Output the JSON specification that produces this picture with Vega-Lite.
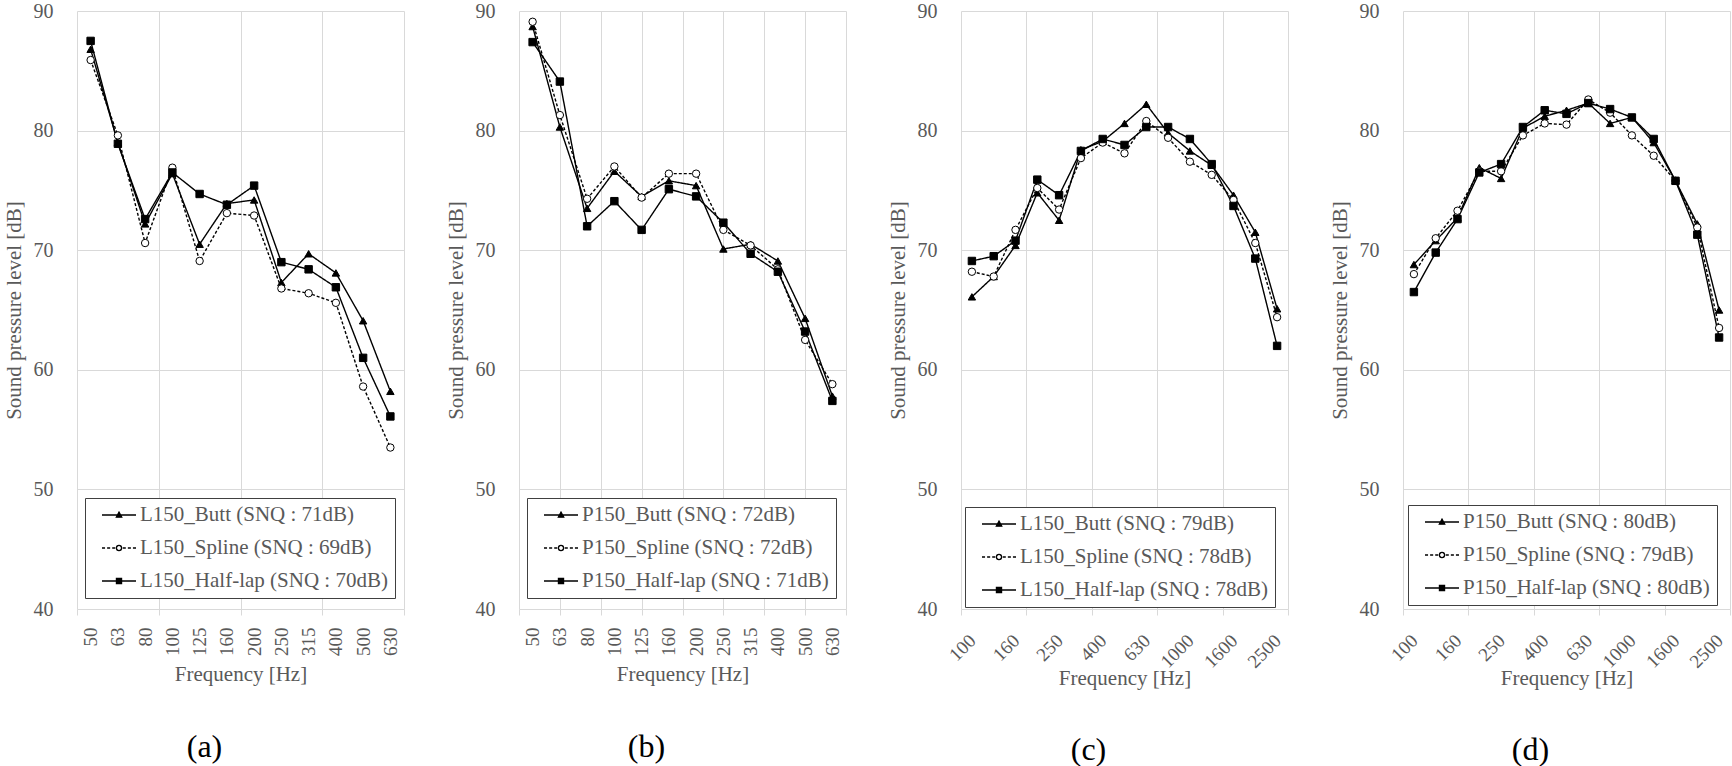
{
  "$schema": "https://vega.github.io/schema/vega-lite/v6.json",
  "background": "white",
  "padding": {"left": 3, "top": 1, "right": 0, "bottom": 0},
  "spacing": 40,
  "config": {
    "font": "Liberation Serif",
    "view": {"stroke": null},
    "axis": {"labelFont": "Liberation Serif", "titleFont": "Liberation Serif", "labelColor": "#595959", "titleColor": "#595959", "titleFontWeight": "normal", "gridColor": "#d9d9d9", "gridWidth": 1, "domain": false, "tickColor": "#d9d9d9"},
    "legend": {"labelFont": "Liberation Serif"},
    "title": {"font": "Liberation Serif", "fontWeight": "normal", "fontSize": 32, "color": "black"}
  },
  "datasets": {
    "a": [
      {"s": "L150_Butt (SNQ : 71dB)", "f": "50", "i": 0, "v": 86.8},
      {"s": "L150_Butt (SNQ : 71dB)", "f": "63", "i": 1, "v": 79.0},
      {"s": "L150_Butt (SNQ : 71dB)", "f": "80", "i": 2, "v": 72.2},
      {"s": "L150_Butt (SNQ : 71dB)", "f": "100", "i": 3, "v": 76.4},
      {"s": "L150_Butt (SNQ : 71dB)", "f": "125", "i": 4, "v": 70.5},
      {"s": "L150_Butt (SNQ : 71dB)", "f": "160", "i": 5, "v": 73.9},
      {"s": "L150_Butt (SNQ : 71dB)", "f": "200", "i": 6, "v": 74.2},
      {"s": "L150_Butt (SNQ : 71dB)", "f": "250", "i": 7, "v": 67.3},
      {"s": "L150_Butt (SNQ : 71dB)", "f": "315", "i": 8, "v": 69.7},
      {"s": "L150_Butt (SNQ : 71dB)", "f": "400", "i": 9, "v": 68.1},
      {"s": "L150_Butt (SNQ : 71dB)", "f": "500", "i": 10, "v": 64.1},
      {"s": "L150_Butt (SNQ : 71dB)", "f": "630", "i": 11, "v": 58.2},
      {"s": "L150_Spline (SNQ : 69dB)", "f": "50", "i": 0, "v": 85.9},
      {"s": "L150_Spline (SNQ : 69dB)", "f": "63", "i": 1, "v": 79.6},
      {"s": "L150_Spline (SNQ : 69dB)", "f": "80", "i": 2, "v": 70.6},
      {"s": "L150_Spline (SNQ : 69dB)", "f": "100", "i": 3, "v": 76.9},
      {"s": "L150_Spline (SNQ : 69dB)", "f": "125", "i": 4, "v": 69.1},
      {"s": "L150_Spline (SNQ : 69dB)", "f": "160", "i": 5, "v": 73.1},
      {"s": "L150_Spline (SNQ : 69dB)", "f": "200", "i": 6, "v": 72.9},
      {"s": "L150_Spline (SNQ : 69dB)", "f": "250", "i": 7, "v": 66.8},
      {"s": "L150_Spline (SNQ : 69dB)", "f": "315", "i": 8, "v": 66.4},
      {"s": "L150_Spline (SNQ : 69dB)", "f": "400", "i": 9, "v": 65.6},
      {"s": "L150_Spline (SNQ : 69dB)", "f": "500", "i": 10, "v": 58.6},
      {"s": "L150_Spline (SNQ : 69dB)", "f": "630", "i": 11, "v": 53.5},
      {"s": "L150_Half-lap (SNQ : 70dB)", "f": "50", "i": 0, "v": 87.5},
      {"s": "L150_Half-lap (SNQ : 70dB)", "f": "63", "i": 1, "v": 78.9},
      {"s": "L150_Half-lap (SNQ : 70dB)", "f": "80", "i": 2, "v": 72.6},
      {"s": "L150_Half-lap (SNQ : 70dB)", "f": "100", "i": 3, "v": 76.5},
      {"s": "L150_Half-lap (SNQ : 70dB)", "f": "125", "i": 4, "v": 74.7},
      {"s": "L150_Half-lap (SNQ : 70dB)", "f": "160", "i": 5, "v": 73.8},
      {"s": "L150_Half-lap (SNQ : 70dB)", "f": "200", "i": 6, "v": 75.4},
      {"s": "L150_Half-lap (SNQ : 70dB)", "f": "250", "i": 7, "v": 69.0},
      {"s": "L150_Half-lap (SNQ : 70dB)", "f": "315", "i": 8, "v": 68.4},
      {"s": "L150_Half-lap (SNQ : 70dB)", "f": "400", "i": 9, "v": 66.9},
      {"s": "L150_Half-lap (SNQ : 70dB)", "f": "500", "i": 10, "v": 61.0},
      {"s": "L150_Half-lap (SNQ : 70dB)", "f": "630", "i": 11, "v": 56.1}
    ],
    "b": [
      {"s": "P150_Butt (SNQ : 72dB)", "f": "50", "i": 0, "v": 88.7},
      {"s": "P150_Butt (SNQ : 72dB)", "f": "63", "i": 1, "v": 80.3},
      {"s": "P150_Butt (SNQ : 72dB)", "f": "80", "i": 2, "v": 73.5},
      {"s": "P150_Butt (SNQ : 72dB)", "f": "100", "i": 3, "v": 76.6},
      {"s": "P150_Butt (SNQ : 72dB)", "f": "125", "i": 4, "v": 74.5},
      {"s": "P150_Butt (SNQ : 72dB)", "f": "160", "i": 5, "v": 75.8},
      {"s": "P150_Butt (SNQ : 72dB)", "f": "200", "i": 6, "v": 75.4},
      {"s": "P150_Butt (SNQ : 72dB)", "f": "250", "i": 7, "v": 70.1},
      {"s": "P150_Butt (SNQ : 72dB)", "f": "315", "i": 8, "v": 70.5},
      {"s": "P150_Butt (SNQ : 72dB)", "f": "400", "i": 9, "v": 69.1},
      {"s": "P150_Butt (SNQ : 72dB)", "f": "500", "i": 10, "v": 64.3},
      {"s": "P150_Butt (SNQ : 72dB)", "f": "630", "i": 11, "v": 57.8},
      {"s": "P150_Spline (SNQ : 72dB)", "f": "50", "i": 0, "v": 89.1},
      {"s": "P150_Spline (SNQ : 72dB)", "f": "63", "i": 1, "v": 81.3},
      {"s": "P150_Spline (SNQ : 72dB)", "f": "80", "i": 2, "v": 74.3},
      {"s": "P150_Spline (SNQ : 72dB)", "f": "100", "i": 3, "v": 77.0},
      {"s": "P150_Spline (SNQ : 72dB)", "f": "125", "i": 4, "v": 74.4},
      {"s": "P150_Spline (SNQ : 72dB)", "f": "160", "i": 5, "v": 76.4},
      {"s": "P150_Spline (SNQ : 72dB)", "f": "200", "i": 6, "v": 76.4},
      {"s": "P150_Spline (SNQ : 72dB)", "f": "250", "i": 7, "v": 71.7},
      {"s": "P150_Spline (SNQ : 72dB)", "f": "315", "i": 8, "v": 70.4},
      {"s": "P150_Spline (SNQ : 72dB)", "f": "400", "i": 9, "v": 68.4},
      {"s": "P150_Spline (SNQ : 72dB)", "f": "500", "i": 10, "v": 62.5},
      {"s": "P150_Spline (SNQ : 72dB)", "f": "630", "i": 11, "v": 58.8},
      {"s": "P150_Half-lap (SNQ : 71dB)", "f": "50", "i": 0, "v": 87.4},
      {"s": "P150_Half-lap (SNQ : 71dB)", "f": "63", "i": 1, "v": 84.1},
      {"s": "P150_Half-lap (SNQ : 71dB)", "f": "80", "i": 2, "v": 72.0},
      {"s": "P150_Half-lap (SNQ : 71dB)", "f": "100", "i": 3, "v": 74.1},
      {"s": "P150_Half-lap (SNQ : 71dB)", "f": "125", "i": 4, "v": 71.7},
      {"s": "P150_Half-lap (SNQ : 71dB)", "f": "160", "i": 5, "v": 75.1},
      {"s": "P150_Half-lap (SNQ : 71dB)", "f": "200", "i": 6, "v": 74.5},
      {"s": "P150_Half-lap (SNQ : 71dB)", "f": "250", "i": 7, "v": 72.3},
      {"s": "P150_Half-lap (SNQ : 71dB)", "f": "315", "i": 8, "v": 69.7},
      {"s": "P150_Half-lap (SNQ : 71dB)", "f": "400", "i": 9, "v": 68.2},
      {"s": "P150_Half-lap (SNQ : 71dB)", "f": "500", "i": 10, "v": 63.2},
      {"s": "P150_Half-lap (SNQ : 71dB)", "f": "630", "i": 11, "v": 57.4}
    ],
    "c": [
      {"s": "L150_Butt (SNQ : 79dB)", "f": "100", "i": 0, "v": 66.1},
      {"s": "L150_Butt (SNQ : 79dB)", "f": "125", "i": 1, "v": 67.8},
      {"s": "L150_Butt (SNQ : 79dB)", "f": "160", "i": 2, "v": 70.4},
      {"s": "L150_Butt (SNQ : 79dB)", "f": "200", "i": 3, "v": 74.8},
      {"s": "L150_Butt (SNQ : 79dB)", "f": "250", "i": 4, "v": 72.5},
      {"s": "L150_Butt (SNQ : 79dB)", "f": "315", "i": 5, "v": 78.4},
      {"s": "L150_Butt (SNQ : 79dB)", "f": "400", "i": 6, "v": 79.1},
      {"s": "L150_Butt (SNQ : 79dB)", "f": "500", "i": 7, "v": 80.6},
      {"s": "L150_Butt (SNQ : 79dB)", "f": "630", "i": 8, "v": 82.2},
      {"s": "L150_Butt (SNQ : 79dB)", "f": "800", "i": 9, "v": 79.8},
      {"s": "L150_Butt (SNQ : 79dB)", "f": "1000", "i": 10, "v": 78.3},
      {"s": "L150_Butt (SNQ : 79dB)", "f": "1250", "i": 11, "v": 77.1},
      {"s": "L150_Butt (SNQ : 79dB)", "f": "1600", "i": 12, "v": 74.6},
      {"s": "L150_Butt (SNQ : 79dB)", "f": "2000", "i": 13, "v": 71.5},
      {"s": "L150_Butt (SNQ : 79dB)", "f": "2500", "i": 14, "v": 65.1},
      {"s": "L150_Spline (SNQ : 78dB)", "f": "100", "i": 0, "v": 68.2},
      {"s": "L150_Spline (SNQ : 78dB)", "f": "125", "i": 1, "v": 67.8},
      {"s": "L150_Spline (SNQ : 78dB)", "f": "160", "i": 2, "v": 71.7},
      {"s": "L150_Spline (SNQ : 78dB)", "f": "200", "i": 3, "v": 75.2},
      {"s": "L150_Spline (SNQ : 78dB)", "f": "250", "i": 4, "v": 73.4},
      {"s": "L150_Spline (SNQ : 78dB)", "f": "315", "i": 5, "v": 77.7},
      {"s": "L150_Spline (SNQ : 78dB)", "f": "400", "i": 6, "v": 79.0},
      {"s": "L150_Spline (SNQ : 78dB)", "f": "500", "i": 7, "v": 78.1},
      {"s": "L150_Spline (SNQ : 78dB)", "f": "630", "i": 8, "v": 80.8},
      {"s": "L150_Spline (SNQ : 78dB)", "f": "800", "i": 9, "v": 79.4},
      {"s": "L150_Spline (SNQ : 78dB)", "f": "1000", "i": 10, "v": 77.4},
      {"s": "L150_Spline (SNQ : 78dB)", "f": "1250", "i": 11, "v": 76.3},
      {"s": "L150_Spline (SNQ : 78dB)", "f": "1600", "i": 12, "v": 74.2},
      {"s": "L150_Spline (SNQ : 78dB)", "f": "2000", "i": 13, "v": 70.6},
      {"s": "L150_Spline (SNQ : 78dB)", "f": "2500", "i": 14, "v": 64.4},
      {"s": "L150_Half-lap (SNQ : 78dB)", "f": "100", "i": 0, "v": 69.1},
      {"s": "L150_Half-lap (SNQ : 78dB)", "f": "125", "i": 1, "v": 69.5},
      {"s": "L150_Half-lap (SNQ : 78dB)", "f": "160", "i": 2, "v": 70.8},
      {"s": "L150_Half-lap (SNQ : 78dB)", "f": "200", "i": 3, "v": 75.9},
      {"s": "L150_Half-lap (SNQ : 78dB)", "f": "250", "i": 4, "v": 74.6},
      {"s": "L150_Half-lap (SNQ : 78dB)", "f": "315", "i": 5, "v": 78.3},
      {"s": "L150_Half-lap (SNQ : 78dB)", "f": "400", "i": 6, "v": 79.3},
      {"s": "L150_Half-lap (SNQ : 78dB)", "f": "500", "i": 7, "v": 78.8},
      {"s": "L150_Half-lap (SNQ : 78dB)", "f": "630", "i": 8, "v": 80.3},
      {"s": "L150_Half-lap (SNQ : 78dB)", "f": "800", "i": 9, "v": 80.3},
      {"s": "L150_Half-lap (SNQ : 78dB)", "f": "1000", "i": 10, "v": 79.3},
      {"s": "L150_Half-lap (SNQ : 78dB)", "f": "1250", "i": 11, "v": 77.2},
      {"s": "L150_Half-lap (SNQ : 78dB)", "f": "1600", "i": 12, "v": 73.7},
      {"s": "L150_Half-lap (SNQ : 78dB)", "f": "2000", "i": 13, "v": 69.3},
      {"s": "L150_Half-lap (SNQ : 78dB)", "f": "2500", "i": 14, "v": 62.0}
    ],
    "d": [
      {"s": "P150_Butt (SNQ : 80dB)", "f": "100", "i": 0, "v": 68.8},
      {"s": "P150_Butt (SNQ : 80dB)", "f": "125", "i": 1, "v": 70.8},
      {"s": "P150_Butt (SNQ : 80dB)", "f": "160", "i": 2, "v": 72.7},
      {"s": "P150_Butt (SNQ : 80dB)", "f": "200", "i": 3, "v": 76.9},
      {"s": "P150_Butt (SNQ : 80dB)", "f": "250", "i": 4, "v": 76.0},
      {"s": "P150_Butt (SNQ : 80dB)", "f": "315", "i": 5, "v": 80.2},
      {"s": "P150_Butt (SNQ : 80dB)", "f": "400", "i": 6, "v": 81.2},
      {"s": "P150_Butt (SNQ : 80dB)", "f": "500", "i": 7, "v": 81.7},
      {"s": "P150_Butt (SNQ : 80dB)", "f": "630", "i": 8, "v": 82.3},
      {"s": "P150_Butt (SNQ : 80dB)", "f": "800", "i": 9, "v": 80.6},
      {"s": "P150_Butt (SNQ : 80dB)", "f": "1000", "i": 10, "v": 81.1},
      {"s": "P150_Butt (SNQ : 80dB)", "f": "1250", "i": 11, "v": 79.0},
      {"s": "P150_Butt (SNQ : 80dB)", "f": "1600", "i": 12, "v": 75.8},
      {"s": "P150_Butt (SNQ : 80dB)", "f": "2000", "i": 13, "v": 72.2},
      {"s": "P150_Butt (SNQ : 80dB)", "f": "2500", "i": 14, "v": 65.0},
      {"s": "P150_Spline (SNQ : 79dB)", "f": "100", "i": 0, "v": 68.0},
      {"s": "P150_Spline (SNQ : 79dB)", "f": "125", "i": 1, "v": 71.0},
      {"s": "P150_Spline (SNQ : 79dB)", "f": "160", "i": 2, "v": 73.3},
      {"s": "P150_Spline (SNQ : 79dB)", "f": "200", "i": 3, "v": 76.6},
      {"s": "P150_Spline (SNQ : 79dB)", "f": "250", "i": 4, "v": 76.6},
      {"s": "P150_Spline (SNQ : 79dB)", "f": "315", "i": 5, "v": 79.6},
      {"s": "P150_Spline (SNQ : 79dB)", "f": "400", "i": 6, "v": 80.6},
      {"s": "P150_Spline (SNQ : 79dB)", "f": "500", "i": 7, "v": 80.5},
      {"s": "P150_Spline (SNQ : 79dB)", "f": "630", "i": 8, "v": 82.6},
      {"s": "P150_Spline (SNQ : 79dB)", "f": "800", "i": 9, "v": 81.5},
      {"s": "P150_Spline (SNQ : 79dB)", "f": "1000", "i": 10, "v": 79.6},
      {"s": "P150_Spline (SNQ : 79dB)", "f": "1250", "i": 11, "v": 77.9},
      {"s": "P150_Spline (SNQ : 79dB)", "f": "1600", "i": 12, "v": 75.8},
      {"s": "P150_Spline (SNQ : 79dB)", "f": "2000", "i": 13, "v": 71.9},
      {"s": "P150_Spline (SNQ : 79dB)", "f": "2500", "i": 14, "v": 63.5},
      {"s": "P150_Half-lap (SNQ : 80dB)", "f": "100", "i": 0, "v": 66.5},
      {"s": "P150_Half-lap (SNQ : 80dB)", "f": "125", "i": 1, "v": 69.8},
      {"s": "P150_Half-lap (SNQ : 80dB)", "f": "160", "i": 2, "v": 72.6},
      {"s": "P150_Half-lap (SNQ : 80dB)", "f": "200", "i": 3, "v": 76.5},
      {"s": "P150_Half-lap (SNQ : 80dB)", "f": "250", "i": 4, "v": 77.2},
      {"s": "P150_Half-lap (SNQ : 80dB)", "f": "315", "i": 5, "v": 80.3},
      {"s": "P150_Half-lap (SNQ : 80dB)", "f": "400", "i": 6, "v": 81.7},
      {"s": "P150_Half-lap (SNQ : 80dB)", "f": "500", "i": 7, "v": 81.4},
      {"s": "P150_Half-lap (SNQ : 80dB)", "f": "630", "i": 8, "v": 82.3},
      {"s": "P150_Half-lap (SNQ : 80dB)", "f": "800", "i": 9, "v": 81.8},
      {"s": "P150_Half-lap (SNQ : 80dB)", "f": "1000", "i": 10, "v": 81.1},
      {"s": "P150_Half-lap (SNQ : 80dB)", "f": "1250", "i": 11, "v": 79.3},
      {"s": "P150_Half-lap (SNQ : 80dB)", "f": "1600", "i": 12, "v": 75.8},
      {"s": "P150_Half-lap (SNQ : 80dB)", "f": "2000", "i": 13, "v": 71.3},
      {"s": "P150_Half-lap (SNQ : 80dB)", "f": "2500", "i": 14, "v": 62.7}
    ]
  },
  "hconcat": [
    {
      "width": 327, "height": 598,
      "data": {"name": "a"},
      "title": {"text": "(a)", "orient": "bottom", "frame": "group", "dx": -36, "offset": 47},
      "encoding": {"y": {"field": "v", "type": "quantitative", "scale": {"domain": [40, 90], "nice": false, "zero": false}, "axis": {"values": [40, 50, 60, 70, 80, 90], "title": "Sound pressure level [dB]", "titleFontSize": 21, "labelFontSize": 20, "labelPadding": 24, "titlePadding": 8.5, "ticks": false, "grid": true}}},
      "layer": [
        {"mark": {"type": "line", "stroke": "black", "strokeWidth": 1.4},
         "encoding": {
           "x": {"field": "i", "type": "quantitative", "scale": {"domain": [-0.5, 11.5], "nice": false, "zero": false}, "axis": {"orient": "bottom", "values": [-0.5, 2.5, 5.5, 8.5, 11.5], "labels": false, "title": null, "grid": true, "ticks": true, "tickSize": 6, "domain": false}},
           "strokeDash": {"field": "s", "type": "nominal", "scale": {"domain": ["L150_Butt (SNQ : 71dB)", "L150_Spline (SNQ : 69dB)", "L150_Half-lap (SNQ : 70dB)"], "range": [[1, 0], [3, 2], [1, 0]]}, "legend": null}}},
        {"mark": {"type": "point", "filled": true, "size": 55, "stroke": "black", "strokeWidth": 1, "opacity": 1},
         "encoding": {
           "x": {"field": "f", "type": "ordinal", "sort": null, "scale": {"type": "point", "padding": 0.5}, "axis": {"orient": "bottom", "title": "Frequency [Hz]", "titleFontSize": 21, "titlePadding": 8, "labelFontSize": 19, "labelAngle": -90, "labelPadding": 18, "labelOverlap": false, "ticks": false, "grid": false, "domain": false}},
           "shape": {"field": "s", "type": "nominal", "scale": {"domain": ["L150_Butt (SNQ : 71dB)", "L150_Spline (SNQ : 69dB)", "L150_Half-lap (SNQ : 70dB)"], "range": ["triangle-up", "circle", "square"]}, "legend": null},
           "fill": {"field": "s", "type": "nominal", "scale": {"domain": ["L150_Butt (SNQ : 71dB)", "L150_Spline (SNQ : 69dB)", "L150_Half-lap (SNQ : 70dB)"], "range": ["black", "white", "black"]}, "legend": null}}},
        {"transform": [{"filter": "false"}],
         "mark": {"type": "point", "filled": true, "stroke": "black", "strokeWidth": 1.3, "opacity": 1},
         "encoding": {
           "shape": {"field": "s", "type": "nominal", "scale": {"domain": ["L150_Butt (SNQ : 71dB)", "L150_Spline (SNQ : 69dB)", "L150_Half-lap (SNQ : 70dB)"], "range": ["M-1,0H1M-0.16,0.13L0,-0.17L0.16,0.13Z", "M-1,0H-0.82M-0.7,0H-0.52M-0.4,0H-0.22M0.22,0H0.4M0.52,0H0.7M0.82,0H1M0.15,0A0.15,0.15,0,1,1,-0.15,0A0.15,0.15,0,1,1,0.15,0Z", "M-1,0H1M-0.15,-0.15H0.15V0.15H-0.15Z"]},
             "legend": {"orient": "none", "legendX": 8, "legendY": 487, "title": null, "symbolSize": 1156, "clipHeight": 20, "rowPadding": 12, "padding": 7, "symbolOffset": 9, "labelOffset": 3, "labelFont": "Liberation Serif", "labelFontSize": 21, "labelColor": "#595959", "labelLimit": 400, "strokeColor": "#404040", "fillColor": "white", "symbolStrokeWidth": 1.3}},
           "fill": {"field": "s", "type": "nominal", "scale": {"domain": ["L150_Butt (SNQ : 71dB)", "L150_Spline (SNQ : 69dB)", "L150_Half-lap (SNQ : 70dB)"], "range": ["black", "white", "black"]},
             "legend": {"orient": "none", "legendX": 8, "legendY": 487, "title": null, "symbolSize": 1156, "clipHeight": 20, "rowPadding": 12, "padding": 7, "symbolOffset": 9, "labelOffset": 3, "labelFont": "Liberation Serif", "labelFontSize": 21, "labelColor": "#595959", "labelLimit": 400, "strokeColor": "#404040", "fillColor": "white", "symbolStrokeWidth": 1.3}},
           "stroke": {"field": "s", "type": "nominal", "scale": {"domain": ["L150_Butt (SNQ : 71dB)", "L150_Spline (SNQ : 69dB)", "L150_Half-lap (SNQ : 70dB)"], "range": ["black", "black", "black"]},
             "legend": {"orient": "none", "legendX": 8, "legendY": 487, "title": null, "symbolSize": 1156, "clipHeight": 20, "rowPadding": 12, "padding": 7, "symbolOffset": 9, "labelOffset": 3, "labelFont": "Liberation Serif", "labelFontSize": 21, "labelColor": "#595959", "labelLimit": 400, "strokeColor": "#404040", "fillColor": "white", "symbolStrokeWidth": 1.3}}}}
      ],
      "resolve": {"scale": {"x": "independent", "shape": "independent", "fill": "independent", "stroke": "independent"}}
    },
    {
      "width": 327, "height": 598,
      "data": {"name": "b"},
      "title": {"text": "(b)", "orient": "bottom", "frame": "group", "dx": -36, "offset": 47},
      "encoding": {"y": {"field": "v", "type": "quantitative", "scale": {"domain": [40, 90], "nice": false, "zero": false}, "axis": {"values": [40, 50, 60, 70, 80, 90], "title": "Sound pressure level [dB]", "titleFontSize": 21, "labelFontSize": 20, "labelPadding": 24, "titlePadding": 8.5, "ticks": false, "grid": true}}},
      "layer": [
        {"mark": {"type": "line", "stroke": "black", "strokeWidth": 1.4},
         "encoding": {
           "x": {"field": "i", "type": "quantitative", "scale": {"domain": [-0.5, 11.5], "nice": false, "zero": false}, "axis": {"orient": "bottom", "values": [-0.5, 1, 2.5, 4, 5.5, 7, 8.5, 10, 11.5], "labels": false, "title": null, "grid": true, "ticks": true, "tickSize": 6, "domain": false}},
           "strokeDash": {"field": "s", "type": "nominal", "scale": {"domain": ["P150_Butt (SNQ : 72dB)", "P150_Spline (SNQ : 72dB)", "P150_Half-lap (SNQ : 71dB)"], "range": [[1, 0], [3, 2], [1, 0]]}, "legend": null}}},
        {"mark": {"type": "point", "filled": true, "size": 55, "stroke": "black", "strokeWidth": 1, "opacity": 1},
         "encoding": {
           "x": {"field": "f", "type": "ordinal", "sort": null, "scale": {"type": "point", "padding": 0.5}, "axis": {"orient": "bottom", "title": "Frequency [Hz]", "titleFontSize": 21, "titlePadding": 8, "labelFontSize": 19, "labelAngle": -90, "labelPadding": 18, "labelOverlap": false, "ticks": false, "grid": false, "domain": false}},
           "shape": {"field": "s", "type": "nominal", "scale": {"domain": ["P150_Butt (SNQ : 72dB)", "P150_Spline (SNQ : 72dB)", "P150_Half-lap (SNQ : 71dB)"], "range": ["triangle-up", "circle", "square"]}, "legend": null},
           "fill": {"field": "s", "type": "nominal", "scale": {"domain": ["P150_Butt (SNQ : 72dB)", "P150_Spline (SNQ : 72dB)", "P150_Half-lap (SNQ : 71dB)"], "range": ["black", "white", "black"]}, "legend": null}}},
        {"transform": [{"filter": "false"}],
         "mark": {"type": "point", "filled": true, "stroke": "black", "strokeWidth": 1.3, "opacity": 1},
         "encoding": {
           "shape": {"field": "s", "type": "nominal", "scale": {"domain": ["P150_Butt (SNQ : 72dB)", "P150_Spline (SNQ : 72dB)", "P150_Half-lap (SNQ : 71dB)"], "range": ["M-1,0H1M-0.16,0.13L0,-0.17L0.16,0.13Z", "M-1,0H-0.82M-0.7,0H-0.52M-0.4,0H-0.22M0.22,0H0.4M0.52,0H0.7M0.82,0H1M0.15,0A0.15,0.15,0,1,1,-0.15,0A0.15,0.15,0,1,1,0.15,0Z", "M-1,0H1M-0.15,-0.15H0.15V0.15H-0.15Z"]},
             "legend": {"orient": "none", "legendX": 8, "legendY": 487, "title": null, "symbolSize": 1156, "clipHeight": 20, "rowPadding": 12, "padding": 7, "symbolOffset": 9, "labelOffset": 3, "labelFont": "Liberation Serif", "labelFontSize": 21, "labelColor": "#595959", "labelLimit": 400, "strokeColor": "#404040", "fillColor": "white", "symbolStrokeWidth": 1.3}},
           "fill": {"field": "s", "type": "nominal", "scale": {"domain": ["P150_Butt (SNQ : 72dB)", "P150_Spline (SNQ : 72dB)", "P150_Half-lap (SNQ : 71dB)"], "range": ["black", "white", "black"]},
             "legend": {"orient": "none", "legendX": 8, "legendY": 487, "title": null, "symbolSize": 1156, "clipHeight": 20, "rowPadding": 12, "padding": 7, "symbolOffset": 9, "labelOffset": 3, "labelFont": "Liberation Serif", "labelFontSize": 21, "labelColor": "#595959", "labelLimit": 400, "strokeColor": "#404040", "fillColor": "white", "symbolStrokeWidth": 1.3}},
           "stroke": {"field": "s", "type": "nominal", "scale": {"domain": ["P150_Butt (SNQ : 72dB)", "P150_Spline (SNQ : 72dB)", "P150_Half-lap (SNQ : 71dB)"], "range": ["black", "black", "black"]},
             "legend": {"orient": "none", "legendX": 8, "legendY": 487, "title": null, "symbolSize": 1156, "clipHeight": 20, "rowPadding": 12, "padding": 7, "symbolOffset": 9, "labelOffset": 3, "labelFont": "Liberation Serif", "labelFontSize": 21, "labelColor": "#595959", "labelLimit": 400, "strokeColor": "#404040", "fillColor": "white", "symbolStrokeWidth": 1.3}}}}
      ],
      "resolve": {"scale": {"x": "independent", "shape": "independent", "fill": "independent", "stroke": "independent"}}
    },
    {
      "width": 327, "height": 598,
      "data": {"name": "c"},
      "title": {"text": "(c)", "orient": "bottom", "frame": "group", "dx": -36, "offset": 47},
      "encoding": {"y": {"field": "v", "type": "quantitative", "scale": {"domain": [40, 90], "nice": false, "zero": false}, "axis": {"values": [40, 50, 60, 70, 80, 90], "title": "Sound pressure level [dB]", "titleFontSize": 21, "labelFontSize": 20, "labelPadding": 24, "titlePadding": 8.5, "ticks": false, "grid": true}}},
      "layer": [
        {"mark": {"type": "line", "stroke": "black", "strokeWidth": 1.4},
         "encoding": {
           "x": {"field": "i", "type": "quantitative", "scale": {"domain": [-0.5, 14.5], "nice": false, "zero": false}, "axis": {"orient": "bottom", "values": [-0.5, 2.5, 5.5, 8.5, 11.5, 14.5], "labels": false, "title": null, "grid": true, "ticks": true, "tickSize": 6, "domain": false}},
           "strokeDash": {"field": "s", "type": "nominal", "scale": {"domain": ["L150_Butt (SNQ : 79dB)", "L150_Spline (SNQ : 78dB)", "L150_Half-lap (SNQ : 78dB)"], "range": [[1, 0], [3, 2], [1, 0]]}, "legend": null}}},
        {"mark": {"type": "point", "filled": true, "size": 55, "stroke": "black", "strokeWidth": 1, "opacity": 1},
         "encoding": {
           "x": {"field": "f", "type": "ordinal", "sort": null, "scale": {"type": "point", "padding": 0.5}, "axis": {"orient": "bottom", "values": ["100", "160", "250", "400", "630", "1000", "1600", "2500"], "title": "Frequency [Hz]", "titleFontSize": 21, "titlePadding": -4, "labelFontSize": 19, "labelAngle": -45, "labelPadding": 22, "labelOffset": -6, "labelOverlap": false, "ticks": false, "grid": false, "domain": false}},
           "shape": {"field": "s", "type": "nominal", "scale": {"domain": ["L150_Butt (SNQ : 79dB)", "L150_Spline (SNQ : 78dB)", "L150_Half-lap (SNQ : 78dB)"], "range": ["triangle-up", "circle", "square"]}, "legend": null},
           "fill": {"field": "s", "type": "nominal", "scale": {"domain": ["L150_Butt (SNQ : 79dB)", "L150_Spline (SNQ : 78dB)", "L150_Half-lap (SNQ : 78dB)"], "range": ["black", "white", "black"]}, "legend": null}}},
        {"transform": [{"filter": "false"}],
         "mark": {"type": "point", "filled": true, "stroke": "black", "strokeWidth": 1.3, "opacity": 1},
         "encoding": {
           "shape": {"field": "s", "type": "nominal", "scale": {"domain": ["L150_Butt (SNQ : 79dB)", "L150_Spline (SNQ : 78dB)", "L150_Half-lap (SNQ : 78dB)"], "range": ["M-1,0H1M-0.16,0.13L0,-0.17L0.16,0.13Z", "M-1,0H-0.82M-0.7,0H-0.52M-0.4,0H-0.22M0.22,0H0.4M0.52,0H0.7M0.82,0H1M0.15,0A0.15,0.15,0,1,1,-0.15,0A0.15,0.15,0,1,1,0.15,0Z", "M-1,0H1M-0.15,-0.15H0.15V0.15H-0.15Z"]},
             "legend": {"orient": "none", "legendX": 4, "legendY": 496, "title": null, "symbolSize": 1156, "clipHeight": 20, "rowPadding": 12, "padding": 7, "symbolOffset": 9, "labelOffset": 3, "labelFont": "Liberation Serif", "labelFontSize": 21, "labelColor": "#595959", "labelLimit": 400, "strokeColor": "#404040", "fillColor": "white", "symbolStrokeWidth": 1.3}},
           "fill": {"field": "s", "type": "nominal", "scale": {"domain": ["L150_Butt (SNQ : 79dB)", "L150_Spline (SNQ : 78dB)", "L150_Half-lap (SNQ : 78dB)"], "range": ["black", "white", "black"]},
             "legend": {"orient": "none", "legendX": 4, "legendY": 496, "title": null, "symbolSize": 1156, "clipHeight": 20, "rowPadding": 12, "padding": 7, "symbolOffset": 9, "labelOffset": 3, "labelFont": "Liberation Serif", "labelFontSize": 21, "labelColor": "#595959", "labelLimit": 400, "strokeColor": "#404040", "fillColor": "white", "symbolStrokeWidth": 1.3}},
           "stroke": {"field": "s", "type": "nominal", "scale": {"domain": ["L150_Butt (SNQ : 79dB)", "L150_Spline (SNQ : 78dB)", "L150_Half-lap (SNQ : 78dB)"], "range": ["black", "black", "black"]},
             "legend": {"orient": "none", "legendX": 4, "legendY": 496, "title": null, "symbolSize": 1156, "clipHeight": 20, "rowPadding": 12, "padding": 7, "symbolOffset": 9, "labelOffset": 3, "labelFont": "Liberation Serif", "labelFontSize": 21, "labelColor": "#595959", "labelLimit": 400, "strokeColor": "#404040", "fillColor": "white", "symbolStrokeWidth": 1.3}}}}
      ],
      "resolve": {"scale": {"x": "independent", "shape": "independent", "fill": "independent", "stroke": "independent"}}
    },
    {
      "width": 327, "height": 598,
      "data": {"name": "d"},
      "title": {"text": "(d)", "orient": "bottom", "frame": "group", "dx": -36, "offset": 47},
      "encoding": {"y": {"field": "v", "type": "quantitative", "scale": {"domain": [40, 90], "nice": false, "zero": false}, "axis": {"values": [40, 50, 60, 70, 80, 90], "title": "Sound pressure level [dB]", "titleFontSize": 21, "labelFontSize": 20, "labelPadding": 24, "titlePadding": 8.5, "ticks": false, "grid": true}}},
      "layer": [
        {"mark": {"type": "line", "stroke": "black", "strokeWidth": 1.4},
         "encoding": {
           "x": {"field": "i", "type": "quantitative", "scale": {"domain": [-0.5, 14.5], "nice": false, "zero": false}, "axis": {"orient": "bottom", "values": [-0.5, 2.5, 5.5, 8.5, 11.5, 14.5], "labels": false, "title": null, "grid": true, "ticks": true, "tickSize": 6, "domain": false}},
           "strokeDash": {"field": "s", "type": "nominal", "scale": {"domain": ["P150_Butt (SNQ : 80dB)", "P150_Spline (SNQ : 79dB)", "P150_Half-lap (SNQ : 80dB)"], "range": [[1, 0], [3, 2], [1, 0]]}, "legend": null}}},
        {"mark": {"type": "point", "filled": true, "size": 55, "stroke": "black", "strokeWidth": 1, "opacity": 1},
         "encoding": {
           "x": {"field": "f", "type": "ordinal", "sort": null, "scale": {"type": "point", "padding": 0.5}, "axis": {"orient": "bottom", "values": ["100", "160", "250", "400", "630", "1000", "1600", "2500"], "title": "Frequency [Hz]", "titleFontSize": 21, "titlePadding": -4, "labelFontSize": 19, "labelAngle": -45, "labelPadding": 22, "labelOffset": -6, "labelOverlap": false, "ticks": false, "grid": false, "domain": false}},
           "shape": {"field": "s", "type": "nominal", "scale": {"domain": ["P150_Butt (SNQ : 80dB)", "P150_Spline (SNQ : 79dB)", "P150_Half-lap (SNQ : 80dB)"], "range": ["triangle-up", "circle", "square"]}, "legend": null},
           "fill": {"field": "s", "type": "nominal", "scale": {"domain": ["P150_Butt (SNQ : 80dB)", "P150_Spline (SNQ : 79dB)", "P150_Half-lap (SNQ : 80dB)"], "range": ["black", "white", "black"]}, "legend": null}}},
        {"transform": [{"filter": "false"}],
         "mark": {"type": "point", "filled": true, "stroke": "black", "strokeWidth": 1.3, "opacity": 1},
         "encoding": {
           "shape": {"field": "s", "type": "nominal", "scale": {"domain": ["P150_Butt (SNQ : 80dB)", "P150_Spline (SNQ : 79dB)", "P150_Half-lap (SNQ : 80dB)"], "range": ["M-1,0H1M-0.16,0.13L0,-0.17L0.16,0.13Z", "M-1,0H-0.82M-0.7,0H-0.52M-0.4,0H-0.22M0.22,0H0.4M0.52,0H0.7M0.82,0H1M0.15,0A0.15,0.15,0,1,1,-0.15,0A0.15,0.15,0,1,1,0.15,0Z", "M-1,0H1M-0.15,-0.15H0.15V0.15H-0.15Z"]},
             "legend": {"orient": "none", "legendX": 5, "legendY": 494, "title": null, "symbolSize": 1156, "clipHeight": 20, "rowPadding": 12, "padding": 7, "symbolOffset": 9, "labelOffset": 3, "labelFont": "Liberation Serif", "labelFontSize": 21, "labelColor": "#595959", "labelLimit": 400, "strokeColor": "#404040", "fillColor": "white", "symbolStrokeWidth": 1.3}},
           "fill": {"field": "s", "type": "nominal", "scale": {"domain": ["P150_Butt (SNQ : 80dB)", "P150_Spline (SNQ : 79dB)", "P150_Half-lap (SNQ : 80dB)"], "range": ["black", "white", "black"]},
             "legend": {"orient": "none", "legendX": 5, "legendY": 494, "title": null, "symbolSize": 1156, "clipHeight": 20, "rowPadding": 12, "padding": 7, "symbolOffset": 9, "labelOffset": 3, "labelFont": "Liberation Serif", "labelFontSize": 21, "labelColor": "#595959", "labelLimit": 400, "strokeColor": "#404040", "fillColor": "white", "symbolStrokeWidth": 1.3}},
           "stroke": {"field": "s", "type": "nominal", "scale": {"domain": ["P150_Butt (SNQ : 80dB)", "P150_Spline (SNQ : 79dB)", "P150_Half-lap (SNQ : 80dB)"], "range": ["black", "black", "black"]},
             "legend": {"orient": "none", "legendX": 5, "legendY": 494, "title": null, "symbolSize": 1156, "clipHeight": 20, "rowPadding": 12, "padding": 7, "symbolOffset": 9, "labelOffset": 3, "labelFont": "Liberation Serif", "labelFontSize": 21, "labelColor": "#595959", "labelLimit": 400, "strokeColor": "#404040", "fillColor": "white", "symbolStrokeWidth": 1.3}}}}
      ],
      "resolve": {"scale": {"x": "independent", "shape": "independent", "fill": "independent", "stroke": "independent"}}
    }
  ]
}
